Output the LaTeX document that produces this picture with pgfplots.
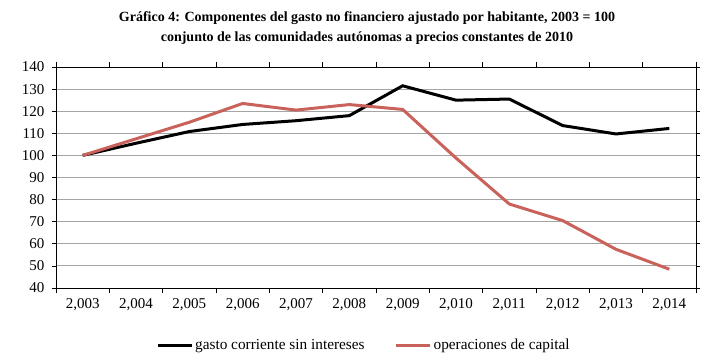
\documentclass[border=0pt]{standalone}
\usepackage{pgfplots}
\pgfplotsset{compat=1.18}
\usepackage{fontspec}
\setmainfont{Liberation Serif}
\definecolor{redline}{RGB}{202,98,92}
\definecolor{gridgray}{RGB}{165,165,165}
\begin{document}
\begin{tikzpicture}
\begin{axis}[
  scale only axis,
  width=640pt, height=221pt,
  xmin=-0.5, xmax=11.5,
  ymin=40, ymax=140,
  xtick={0,...,11},
  xticklabels={{2,003},{2,004},{2,005},{2,006},{2,007},{2,008},{2,009},{2,010},{2,011},{2,012},{2,013},{2,014}},
  major x tick style={draw=none},
  minor xtick={-0.5,0.5,...,11.5},
  minor tick length=5pt,
  ytick={40,50,...,140},
  major tick length=4pt,
  tick align=outside,
  ymajorgrids,
  grid style={gridgray, line width=1pt},
  axis line style={black, line width=0.8pt},
  tick style={black, line width=0.8pt},
  ticklabel style={font=\fontsize{15}{18}\selectfont},
  /pgf/number format/assume math mode=true,
  yticklabel style={xshift=-4pt},
  xticklabel style={yshift=-3pt},
  legend style={at={(0.481,-0.258)}, anchor=center, draw=none, fill=none,
    legend columns=2, font=\fontsize{15.3}{18}\selectfont,
    /tikz/every even column/.append style={column sep=28pt}},
  legend cell align=left,
  legend image code/.code={\draw[#1, line width=3pt] (0pt,0pt) -- (34pt,0pt);},
]
\addplot[black, line width=3pt] coordinates {
(0,100) (1,105.5) (2,110.8) (3,114) (4,115.7) (5,118) (6,131.5) (7,125) (8,125.5) (9,113.5) (10,109.7) (11,112.2)};
\addlegendentry{gasto corriente sin intereses}
\addplot[redline, line width=3pt] coordinates {
(0,100) (1,107.5) (2,115) (3,123.5) (4,120.5) (5,123) (6,120.8) (7,98.8) (8,78) (9,70.5) (10,57.5) (11,48.5)};
\addlegendentry{operaciones de capital}
\coordinate (sw) at (rel axis cs:0,0);
\end{axis}
\node[font=\fontsize{14}{20.5}\selectfont\bfseries, align=center, anchor=center] at ([xshift=311pt, yshift=260pt]sw) {Gráfico 4: Componentes del gasto no financiero ajustado por habitante, 2003 = 100\\conjunto de las comunidades autónomas a precios constantes de 2010};
\path[use as bounding box] ([xshift=-56pt, yshift=-71pt]sw) rectangle ++(719pt,359pt);
\end{tikzpicture}
\end{document}
